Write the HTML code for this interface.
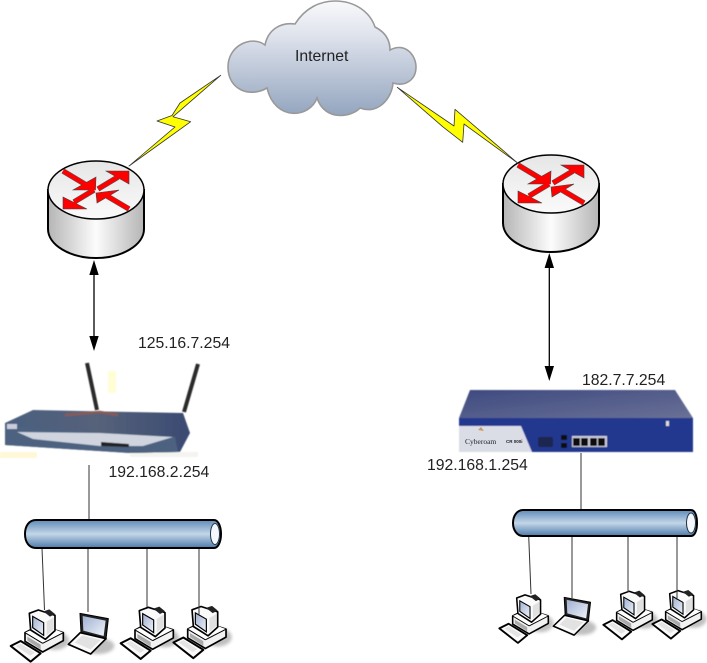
<!DOCTYPE html>
<html><head><meta charset="utf-8"><title>Network diagram</title>
<style>html,body{margin:0;padding:0;background:#fff;width:707px;height:663px;overflow:hidden}svg{display:block}
text{font-family:"Liberation Sans",sans-serif;font-size:15.75px;fill:#222}</style></head>
<body>
<svg width="707" height="663" viewBox="0 0 707 663">
<defs>
<linearGradient id="cl" x1="0" y1="0" x2="0" y2="1"><stop offset="0" stop-color="#f8f9fb"/><stop offset=".3" stop-color="#dfe3ec"/><stop offset="1" stop-color="#93a5bf"/></linearGradient>
<linearGradient id="rb" x1="0" y1="0" x2="1" y2="0"><stop offset="0" stop-color="#b5b5b5"/><stop offset=".5" stop-color="#fcfcfc"/><stop offset="1" stop-color="#b5b5b5"/></linearGradient>
<linearGradient id="rt" x1="0" y1="0" x2="0" y2="1"><stop offset="0" stop-color="#e6e6e6"/><stop offset="1" stop-color="#fafafa"/></linearGradient>
<linearGradient id="pp" x1="0" y1="0" x2="0" y2="1"><stop offset="0" stop-color="#5f8ab8"/><stop offset=".5" stop-color="#c3d6e8"/><stop offset="1" stop-color="#4d7aaa"/></linearGradient>
<linearGradient id="dk" x1="0" y1="0" x2="1" y2="0"><stop offset="0" stop-color="#4a6080"/><stop offset=".5" stop-color="#56627a"/><stop offset="1" stop-color="#3a4a72"/></linearGradient>
<linearGradient id="ct" x1="0" y1="0" x2="1" y2="1"><stop offset="0" stop-color="#3e4a80"/><stop offset="1" stop-color="#6a7196"/></linearGradient>
<linearGradient id="scr" x1="0" y1="0" x2="1" y2="1"><stop offset="0" stop-color="#9fb0d0"/><stop offset="1" stop-color="#f0f4fb"/></linearGradient>
<filter id="bl"><feGaussianBlur stdDeviation=".6"/></filter>
<filter id="bs" x="-30%" y="-30%" width="160%" height="160%"><feGaussianBlur stdDeviation="5"/></filter>

<g id="router">
<path d="M48,190V229C48,245 70,258 96,258S144,245 144,229V190Z" fill="url(#rb)" stroke="#000" stroke-width="2"/>
<ellipse cx="96" cy="190" rx="48" ry="29" fill="url(#rt)" stroke="#000" stroke-width="1.500"/>
<g stroke="#555" stroke-width="5.500"><line x1="63" y1="171" x2="88" y2="186"/><line x1="98" y1="189" x2="118" y2="177"/><line x1="129" y1="209" x2="107" y2="196"/><line x1="94" y1="190" x2="74" y2="202"/></g>
<g fill="#f00" stroke="#444" stroke-width=".6">
<polygon points="96,177 95.500,190 73,190"/>
<polygon points="106,171 129,171 129,184"/>
<polygon points="119,190 96,193 97,203"/>
<polygon points="63,209 87,209 63,197"/>
</g>
<g stroke="#f00" stroke-width="4.500"><line x1="63" y1="171" x2="88" y2="186"/><line x1="98" y1="189" x2="118" y2="177"/><line x1="129" y1="209" x2="107" y2="196"/><line x1="94" y1="190" x2="74" y2="202"/></g>
</g>

<g id="pc">
<ellipse cx="165" cy="392" rx="42" ry="28" fill="#aaa" opacity=".75" filter="url(#bs)"/>
<polygon points="32,408 62,393 122,430 92,455" fill="#fafafa" stroke="#000" stroke-width="6" stroke-linejoin="round"/>
<polygon points="48,408 62,401 104,428 90,437" fill="#e4e4e4"/>
<polygon points="75,368 120,345 190,368 190,392 128,426 75,394" fill="#f2f2f2" stroke="#000" stroke-width="5" stroke-linejoin="round"/>
<polygon points="75,368 128,400 190,368 128,345" fill="#fff"/>
<polygon points="82,380 122,404 122,418 82,392" fill="#aaa"/>
<line x1="75" y1="368" x2="128" y2="400" stroke="#000" stroke-width="3"/><line x1="128" y1="400" x2="190" y2="368" stroke="#000" stroke-width="3"/>
<polygon points="88,310 115,300 165,316 165,362 136,388 92,360" fill="#fafafa" stroke="#000" stroke-width="5" stroke-linejoin="round"/>
<polygon points="130,304 148,298 165,312 150,320" fill="#222"/>
<polygon points="98,319 131,338 131,376 98,353" fill="url(#scr)" stroke="#000" stroke-width="3.500"/>
<polygon points="140,335 161,322 161,358 140,376" fill="#e0e0e0"/>
</g>

<g id="lt">
<ellipse cx="295" cy="408" rx="48" ry="24" fill="#aaa" opacity=".75" filter="url(#bs)"/>
<polygon points="240,310 325,326 318,388 243,368" fill="#222" stroke="#000" stroke-width="3" stroke-linejoin="round"/>
<polygon points="248,318 317,332 311,378 250,362" fill="url(#scr)"/>
<polygon points="205,403 241,368 318,386 272,432" fill="#fafafa" stroke="#000" stroke-width="5" stroke-linejoin="round"/>
<polygon points="225,398 247,376 302,390 272,418" fill="#e2e2e2"/>
</g>
</defs>

<rect width="707" height="663" fill="#fff"/>

<!-- cloud -->
<path d="M267,88C250,98 228,90 228,67C228,45 252,35 265,45C268,30 280,22 295,24C305,8 320,1 335,1C355,1 370,12 375,27C385,32 390,40 390,50C405,42 416,55 416,67C416,80 405,87 393,83C392,98 378,115 360,108C352,117 325,122 317,98C310,118 275,122 267,88Z" fill="url(#cl)" stroke="#999" stroke-width="1.600"/>
<text x="295" y="61">Internet</text>

<!-- routers -->
<use href="#router"/>
<use href="#router" x="455" y="-6"/>

<!-- lightning -->
<polygon points="220.700,75.300 180,103 172,115.500 157,121 175,127 129,166 190.700,121.700 173,116.700" fill="#ff0" stroke="#333" stroke-width=".8" stroke-linejoin="round"/>
<polygon points="397.300,87.300 454,126 455,109.300 518,163.300 464,124 462.700,142.300 442.700,126.700" fill="#ff0" stroke="#333" stroke-width=".8" stroke-linejoin="round"/>

<!-- double arrows -->
<g stroke="#000" stroke-width="1.300"><line x1="94" y1="270" x2="94" y2="340"/><line x1="549.300" y1="264" x2="549.300" y2="370"/></g>
<g fill="#000">
<polygon points="94,260 89.300,275 98.700,275"/><polygon points="94,351 89.300,336 98.700,336"/>
<polygon points="549.300,253 544.600,268 554,268"/><polygon points="549.300,381 544.600,366 554,366"/>
</g>

<!-- left device -->
<g filter="url(#bl)">
<rect x="108" y="371" width="8" height="22" fill="#fffdd6"/>
<rect x="0" y="452" width="37" height="6" fill="#fff8d8"/>
<rect x="130" y="452" width="68" height="5" fill="#f4f4f0"/>
<polygon points="5,423 33,410 183,413 190,433 180,452 130,453 5,445" fill="url(#dk)"/>
<polygon points="5,426 175,437 178,452 130,453 5,445" fill="#4d6280"/>
<polygon points="17,432 100,433 173,437 143,446 100,446 33,439" fill="#cfd4df"/>
<rect x="7" y="424" width="10" height="5" fill="#ccd"/>
<polygon points="101,442 129,444 129,447 101,446" fill="#222"/>
<path d="M65,415L100,412 118,415" stroke="#8a5a55" stroke-width="2.500" fill="none"/>
<line x1="87" y1="363" x2="97" y2="410" stroke="#2c2c2c" stroke-width="4"/>
<line x1="198" y1="364" x2="184" y2="412" stroke="#2c2c2c" stroke-width="4"/>
</g>

<!-- right device -->
<g filter="url(#bl)">
<polygon points="470,390 675,390 693,418 459,418" fill="url(#ct)"/>
<rect x="459" y="418" width="234" height="34" fill="#24398f"/>
<polygon points="459,426 521,426 532,452 459,452" fill="#dadde6"/>
<rect x="538" y="437" width="15" height="10" rx="2" fill="#1c2650"/>
<rect x="561" y="435" width="6" height="5" fill="#111"/><rect x="561" y="443" width="6" height="5" fill="#111"/>
<rect x="572" y="436" width="35" height="11" fill="#ccd"/>
<g fill="#111"><rect x="573" y="438" width="7" height="8"/><rect x="581" y="438" width="7" height="8"/><rect x="590" y="438" width="7" height="8"/><rect x="598" y="438" width="7" height="8"/></g>
<rect x="666" y="421" width="3" height="5" fill="#ddd"/>
</g>
<text x="465" y="444" style="font-family:'Liberation Serif',serif;font-size:7.500px;fill:#223">Cyberoam</text>
<text x="506" y="443" style="font-size:4.500px;fill:#222;font-weight:bold">CR 000i</text>
<polygon points="478,430 481,427 484,431" fill="#c96"/>

<!-- IP labels -->
<text x="138" y="348">125.16.7.254</text>
<text x="108.500" y="477">192.168.2.254</text>
<text x="582" y="385">182.7.7.254</text>
<text x="427" y="470">192.168.1.254</text>

<!-- PCs -->
<use href="#pc" transform="translate(0,510) scale(.3333)"/>
<use href="#lt" transform="translate(0,510) scale(.3333)"/>
<use href="#pc" transform="translate(110,507.300) scale(.3333)"/>
<use href="#pc" transform="translate(162.700,506.500) scale(.3333)"/>
<use href="#pc" transform="translate(489.400,501.900) scale(.31)"/>
<use href="#lt" transform="translate(489.800,501.200) scale(.31)"/>
<use href="#pc" transform="translate(593.400,498.300) scale(.31)"/>
<use href="#pc" transform="translate(642.400,497.600) scale(.31)"/>

<!-- thin lines -->
<g stroke="#333" stroke-width="1" fill="none">
<line x1="89" y1="465" x2="89" y2="520"/>
<line x1="581" y1="453" x2="581" y2="511"/>
<line x1="42" y1="548" x2="44.500" y2="610"/>
<line x1="88" y1="548" x2="88" y2="612"/>
<line x1="147" y1="548" x2="147" y2="607"/>
<line x1="199" y1="548" x2="199" y2="615"/>
<line x1="528.700" y1="536" x2="531" y2="594"/>
<line x1="572" y1="536" x2="572" y2="598"/>
<line x1="628" y1="536" x2="628" y2="592"/>
<line x1="677" y1="536" x2="677" y2="600"/>
</g>

<!-- pipes -->
<path d="M36,520H214C218,520 221,526 221,534S218,548 214,548H36C29,548 25,542 25,534S29,520 36,520Z" fill="url(#pp)" stroke="#000" stroke-width="2"/>
<ellipse cx="215" cy="534" rx="4.500" ry="10.500" fill="#f4f7fb" stroke="#234" stroke-width="1"/>
<path d="M523,510H691C695,510 697,516 697,523S695,536 691,536H523C517,536 513,530 513,523S517,510 523,510Z" fill="url(#pp)" stroke="#000" stroke-width="2"/>
<ellipse cx="691" cy="523" rx="4.500" ry="10" fill="#f4f7fb" stroke="#234" stroke-width="1"/>
</svg>
</body></html>
